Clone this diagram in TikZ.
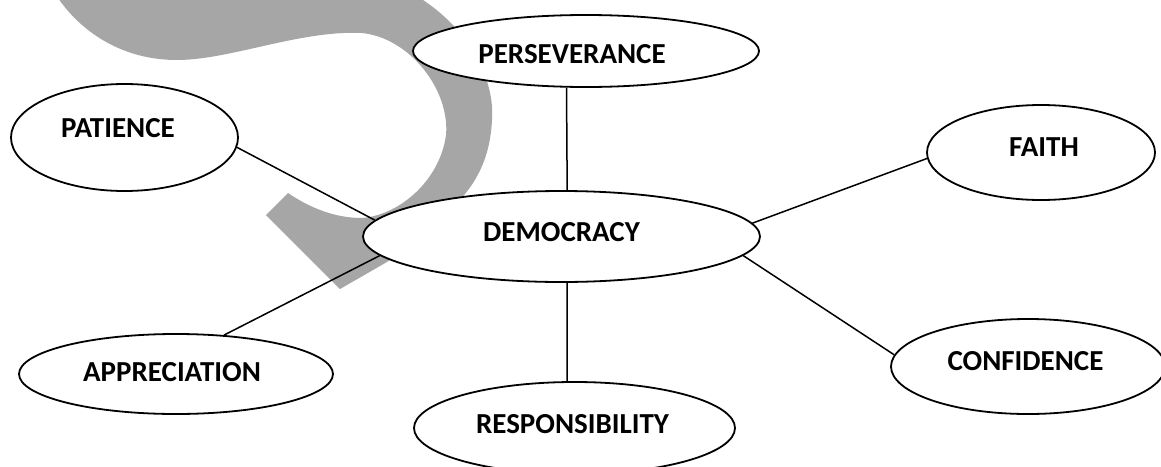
\documentclass[tikz,border=0pt]{standalone}
\usepackage{fontspec}
\setmainfont{Carlito}
\usetikzlibrary{shapes.geometric}
\definecolor{wmgray}{RGB}{166,166,166}
\tikzset{
  bubble/.style={ellipse, draw=black, line width=1.8pt, fill=white, inner sep=0pt},
  lbl/.style={font=\bfseries\fontsize{29}{29}\selectfont, text height=18.7pt, text depth=0pt, inner sep=0pt},
  link/.style={draw=black, line width=1.5pt}
}
\begin{document}
\begin{tikzpicture}[x=1pt,y=-1pt]
\useasboundingbox (0,0) rectangle (1161,466);
\fill[white] (0,0) rectangle (1161,466);
% watermark shape
\fill[wmgray] (58,-2) -- (420,-2)
  .. controls (470,30) and (495,80) .. (492,120)
  .. controls (490,160) and (475,185) .. (455,205)
  .. controls (430,228) and (410,245) .. (387,262)
  -- (340,289) -- (266,215) -- (288,193)
  .. controls (310,208) and (335,218) .. (362,218)
  .. controls (400,215) and (440,180) .. (446,135)
  .. controls (450,90) and (410,38) .. (362,33)
  .. controls (300,30) and (230,60) .. (177,60)
  .. controls (120,60) and (80,30) .. (58,-2) -- cycle;
% ellipses
\node[bubble, minimum width=397pt, minimum height=91pt,
  label={[lbl,yshift=4.5pt]center:DEMOCRACY}] (dem) at (561.5,236.5) {};
\node[bubble, minimum width=346pt, minimum height=72pt,
  label={[lbl,xshift=-14pt,yshift=-3pt]center:PERSEVERANCE}] (pers) at (586,51) {};
\node[bubble, minimum width=227pt, minimum height=107pt,
  label={[lbl,xshift=-6.5pt,yshift=9.5pt]center:PATIENCE}] (pat) at (124.5,137.5) {};
\node[bubble, minimum width=228pt, minimum height=95pt,
  label={[lbl,xshift=3pt,yshift=5.5pt]center:FAITH}] (faith) at (1041,152.5) {};
\node[bubble, minimum width=274pt, minimum height=95pt,
  label={[lbl,xshift=-2.5pt,yshift=5pt]center:CONFIDENCE}] (conf) at (1028,366.5) {};
\node[bubble, minimum width=314pt, minimum height=80pt,
  label={[lbl,xshift=-4pt,yshift=1.5pt]center:APPRECIATION}] (app) at (176,374) {};
\node[bubble, minimum width=321pt, minimum height=92pt,
  label={[lbl,xshift=-2pt,yshift=3.5pt]center:RESPONSIBILITY}] (resp) at (574.5,428) {};
% connectors
\draw[link] (pers.-118) -- (dem.83.1);
\draw[link] (dem.-83.1) -- (resp.99.3);
\draw[link] (pat.-5.3) -- (dem.175.2);
\draw[link] (app.39.1) -- (dem.186.6);
\draw[link] (faith.183.5) -- (dem.4.75);
\draw[link] (conf.175.6) -- (dem.-6.6);
\end{tikzpicture}
\end{document}
